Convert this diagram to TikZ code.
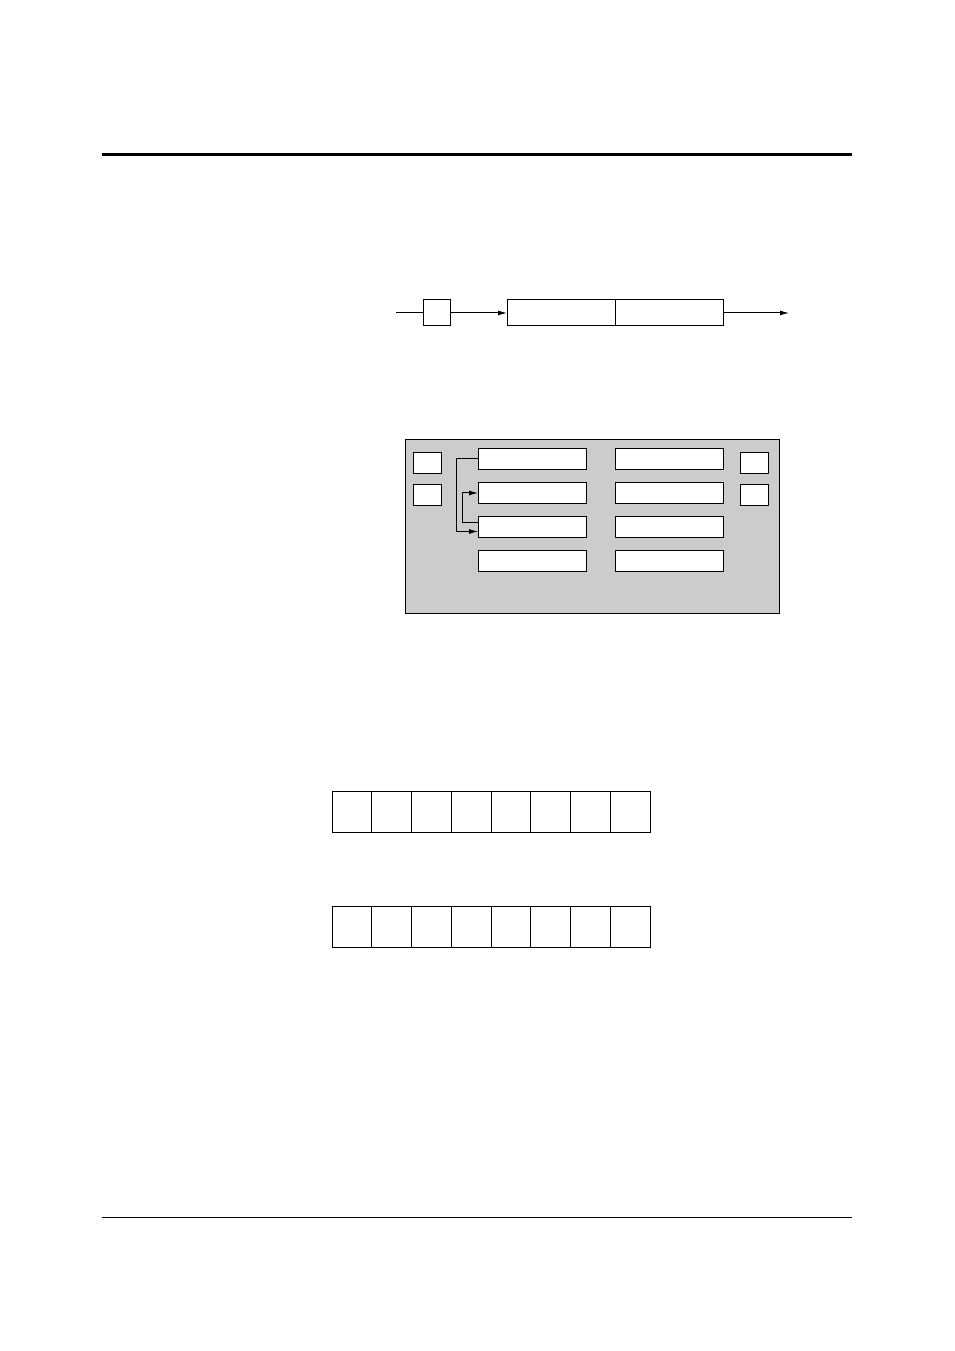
\documentclass[tikz,border=0pt]{standalone}
\usepackage{tikz}
\usetikzlibrary{calc}
\usetikzlibrary{positioning}
\usetikzlibrary{arrows.meta}

\begin{document}
\begin{tikzpicture}[x=1pt, y=1pt, line width=1pt, every node/.style={outer sep=0pt},
    smallbox/.style={rectangle, draw=black, fill=white, inner sep=0pt, minimum width=28pt, minimum height=21pt},
    barbox/.style={rectangle, draw=black, fill=white, inner sep=0pt, minimum width=108pt, minimum height=21pt},
    cellbox/.style={rectangle, draw=black, fill=white, inner sep=0pt, minimum width=39.75pt, minimum height=41pt},
    arrowline/.style={-{Latex[length=9pt, width=5pt]}, line width=1pt}]
    \useasboundingbox (0,0) rectangle (954,1351);

    % Page rules
    \draw[line width=3pt] (102,1196) -- (852,1196);
    \draw[line width=0.8pt] (102,134) -- (852,134);

    % Top chain
    \coordinate (in) at (396,1038);
    \node[rectangle, draw=black, inner sep=0pt, minimum width=27pt, minimum height=26pt] (latch) at (436.5,1038) {};
    \node[rectangle, draw=black, inner sep=0pt, minimum width=108pt, minimum height=26pt] (regA) [right=57pt of latch] {};
    \node[rectangle, draw=black, inner sep=0pt, minimum width=108pt, minimum height=26pt] (regB) [right=0pt of regA] {};
    \coordinate (out) at (789,1038);

    \draw[-] (in) -- (latch);
    \draw[arrowline] (latch) -- (regA);
    \draw[arrowline] (regB) -- (out);

    % Gray panel
    \node[rectangle, draw=black, fill=gray!40, inner sep=0pt, minimum width=374pt, minimum height=174pt] (panel) at (592,824) {};

    \node[smallbox] (inA) at (427.5,887.5) {};
    \node[smallbox] (inB) [below=11pt of inA] {};
    \node[smallbox] (outA) at (754.5,887.5) {};
    \node[smallbox] (outB) [below=11pt of outA] {};

    \node[barbox] (bar1) at (532,892) {};
    \node[barbox] (bar2) [below=13pt of bar1] {};
    \node[barbox] (bar3) [below=13pt of bar2] {};
    \node[barbox] (bar4) [below=13pt of bar3] {};

    \node[barbox] (bar5) [right=29pt of bar1] {};
    \node[barbox] (bar6) [right=29pt of bar2] {};
    \node[barbox] (bar7) [right=29pt of bar3] {};
    \node[barbox] (bar8) [right=29pt of bar4] {};

    \draw[arrowline] (bar1.west) -- ++(-22,0) |- ($(bar3.west)+(0,-4.5)$);
    \draw[arrowline] ($(bar3.west)+(0,4.5)$) -- ++(-16,0) |- (bar2.west);

    % Cell rows
    \foreach \i in {1,...,8} {
        \node[cellbox] (top\i) at ({332+39.75*(\i-0.5)},539) {};
        \node[cellbox] (bot\i) at ({332+39.75*(\i-0.5)},423.5) {};
    }

\end{tikzpicture}
\end{document}
